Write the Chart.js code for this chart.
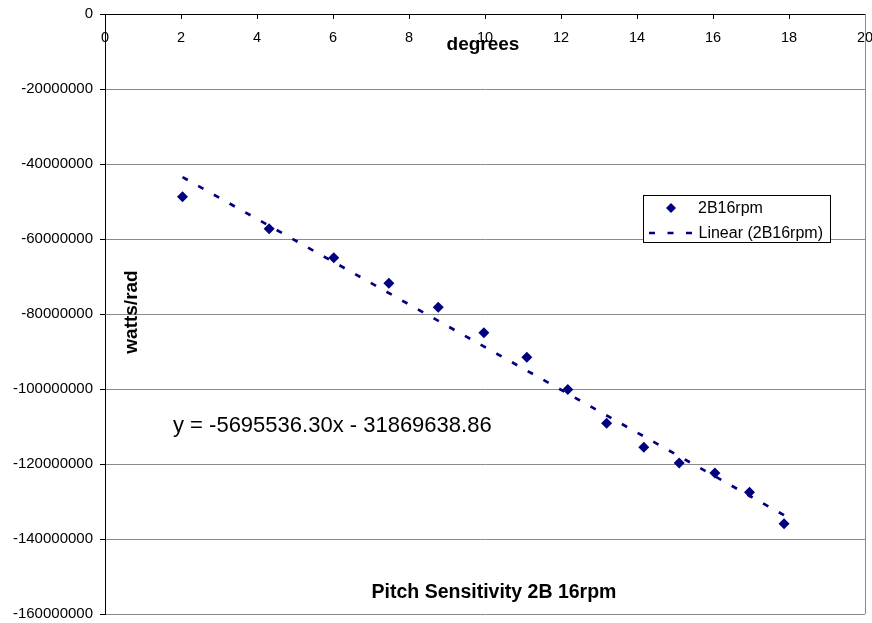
<!DOCTYPE html>
<html>
<head>
<meta charset="utf-8">
<script src="https://cdn.jsdelivr.net/npm/chart.js@4/dist/chart.umd.min.js"></script>
<style>
  html, body { margin: 0; padding: 0; background: #ffffff; }
  #wrap { width: 872px; height: 623px; }
</style>
</head>
<body>
<div id="wrap"><canvas id="c" width="872" height="623"></canvas></div>
<script>
// ---- data ----
const degrees = [2.04, 4.32, 6.02, 7.47, 8.77, 9.97, 11.10, 12.18, 13.20, 14.18, 15.11, 16.05, 16.96, 17.87];
const wattsPerRad = [-48700000, -57250000, -65000000, -71800000, -78200000, -85000000, -91500000,
                     -100100000, -109100000, -115500000, -119700000, -122400000, -127500000, -135900000];
const seriesName = "2B16rpm";
const trendName = "Linear (2B16rpm)";
const trendSlope = -5695536.30;
const trendIntercept = -31869638.86;
const equationText = "y = -5695536.30x - 31869638.86";
const xTitle = "degrees";
const yTitle = "watts/rad";
const chartTitle = "Pitch Sensitivity 2B 16rpm";
const xMin = 0, xMax = 20, xStep = 2;
const yMin = -160000000, yMax = 0, yStep = 20000000;

const FONT = "'Liberation Sans', Arial, sans-serif";
const NAVY = "#000080";
const GRID = "#8a8a8a";

const scatterPts = degrees.map((d, i) => ({ x: d, y: wattsPerRad[i] }));
const xFirst = degrees[0], xLast = degrees[degrees.length - 1];
const trendPts = [
  { x: xFirst, y: trendSlope * xFirst + trendIntercept },
  { x: xLast, y: trendSlope * xLast + trendIntercept }
];

const overlay = {
  id: 'overlay',
  beforeDatasetsDraw(chart) {
    const { ctx, chartArea: a } = chart;
    ctx.save();
    ctx.strokeStyle = GRID;
    ctx.lineWidth = 1;
    ctx.beginPath();
    ctx.moveTo(Math.round(a.right) + 0.5, a.top);
    ctx.lineTo(Math.round(a.right) + 0.5, a.bottom);
    ctx.stroke();
    ctx.restore();
  },
  afterDraw(chart) {
    const { ctx } = chart;
    ctx.save();
    ctx.fillStyle = '#000';
    ctx.font = "bold 19px " + FONT;
    ctx.textAlign = 'center';
    ctx.textBaseline = 'alphabetic';
    ctx.fillText(xTitle, 483, 50);
    ctx.font = "bold 19.5px " + FONT;
    ctx.fillText(chartTitle, 494, 598);
    ctx.save();
    ctx.translate(137, 312);
    ctx.rotate(-Math.PI / 2);
    ctx.font = "bold 19px " + FONT;
    ctx.textAlign = 'center';
    ctx.fillText(yTitle, 0, 0);
    ctx.restore();
    ctx.font = "22px " + FONT;
    ctx.textAlign = 'left';
    ctx.fillText(equationText, 173, 432);

    // legend
    const lx = 643.5, ly = 195.5, lw = 187, lh = 47;
    ctx.fillStyle = '#fff';
    ctx.fillRect(lx, ly, lw, lh);
    ctx.strokeStyle = '#000';
    ctx.lineWidth = 1;
    ctx.strokeRect(lx, ly, lw, lh);
    const ds = chart.data.datasets;
    ctx.fillStyle = NAVY;
    ctx.beginPath();
    const mx = 671, my = 208, r = 5;
    ctx.moveTo(mx, my - r); ctx.lineTo(mx + r, my); ctx.lineTo(mx, my + r); ctx.lineTo(mx - r, my);
    ctx.closePath();
    ctx.fill();
    ctx.strokeStyle = NAVY;
    ctx.lineWidth = 2.5;
    ctx.setLineDash([6, 12.5]);
    ctx.beginPath();
    ctx.moveTo(649, 233); ctx.lineTo(692, 233);
    ctx.stroke();
    ctx.setLineDash([]);
    ctx.fillStyle = '#000';
    ctx.font = "16px " + FONT;
    ctx.textBaseline = 'middle';
    ctx.fillText(ds[0].label, 698, 209);
    ctx.fillText(ds[1].label, 698.5, 234);
    ctx.restore();
  }
};

new Chart(document.getElementById('c'), {
  type: 'scatter',
  data: {
    datasets: [
      {
        label: seriesName,
        data: scatterPts,
        pointStyle: 'rectRot',
        pointRadius: 5.5,
        pointHoverRadius: 5.5,
        backgroundColor: NAVY,
        borderColor: NAVY,
        borderWidth: 0,
        showLine: false,
        order: 1
      },
      {
        label: trendName,
        type: 'line',
        data: trendPts,
        borderColor: NAVY,
        borderWidth: 2.7,
        borderDash: [6, 12],
        pointRadius: 0,
        fill: false,
        tension: 0,
        order: 2
      }
    ]
  },
  options: {
    responsive: false,
    animation: false,
    devicePixelRatio: 1,
    layout: { padding: { left: 0, top: 14, right: 7, bottom: 9 } },
    plugins: {
      legend: { display: false },
      tooltip: { enabled: false },
      title: { display: false }
    },
    scales: {
      x: {
        type: 'linear',
        position: { y: 0 },
        min: xMin, max: xMax,
        afterFit: (s) => { s.paddingLeft = 0; s.paddingRight = 0; s.paddingTop = 0; s.paddingBottom = 0; },
        ticks: {
          stepSize: xStep,
          color: '#000',
          font: { family: FONT, size: 14.5 },
          padding: 11,
          maxRotation: 0,
          callback: (v) => String(v)
        },
        grid: { drawOnChartArea: false, drawTicks: true, tickLength: 4, tickColor: '#000' },
        border: { display: true, color: '#000', width: 1 }
      },
      y: {
        type: 'linear',
        position: 'left',
        min: yMin, max: yMax,
        afterFit: (s) => { s.width = 105; s.paddingTop = 0; s.paddingBottom = 0; s.paddingLeft = 0; s.paddingRight = 0; },
        ticks: {
          stepSize: yStep,
          color: '#000',
          font: { family: FONT, size: 15 },
          padding: 7,
          callback: (v) => String(v)
        },
        grid: { color: GRID, lineWidth: 1, tickLength: 5, tickColor: '#000' },
        border: { display: true, color: '#000', width: 1 }
      }
    }
  },
  plugins: [overlay]
});
</script>
</body>
</html>
